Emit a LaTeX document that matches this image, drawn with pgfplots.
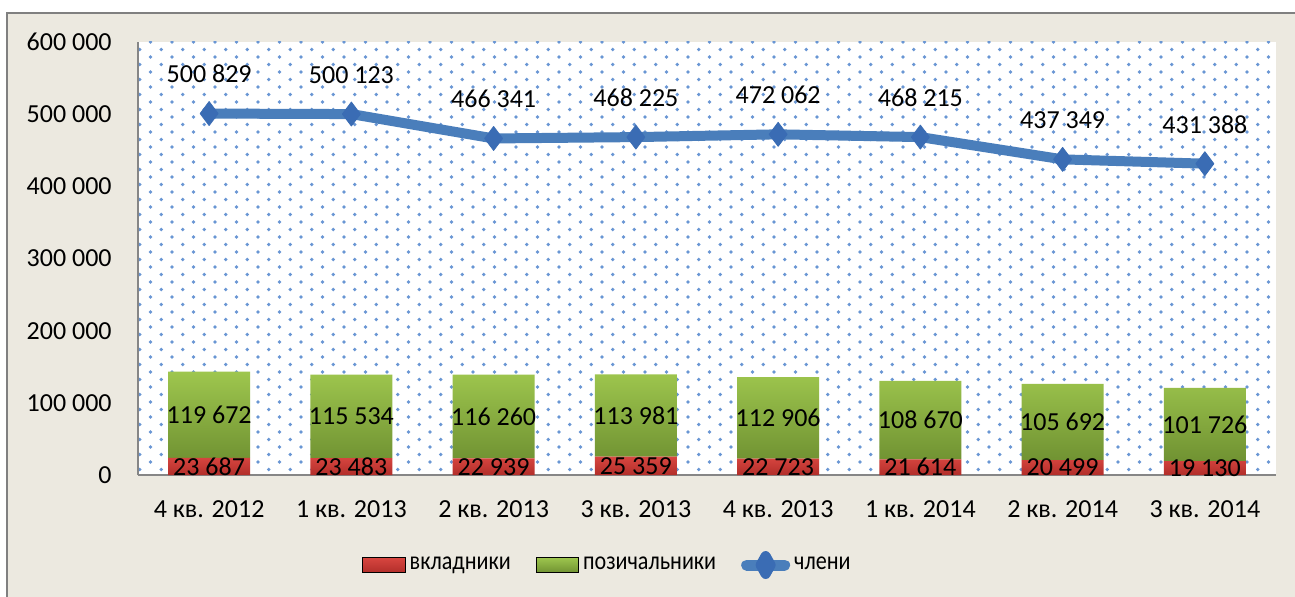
\documentclass[border=0pt]{standalone}
\usepackage{fontspec}
\setmainfont{Carlito}
\newfontfamily\legfont[FakeStretch=0.85]{Carlito}
\usepackage{pgfplots}
\pgfplotsset{compat=1.18}
\usetikzlibrary{patterns}

\definecolor{framebg}{RGB}{236,233,224}
\definecolor{framegray}{RGB}{128,128,128}
\definecolor{axisgray}{RGB}{134,134,134}
\definecolor{dotblue}{RGB}{105,150,212}
\definecolor{redtop}{RGB}{216,70,64}
\definecolor{redbot}{RGB}{178,46,42}
\definecolor{greentop}{RGB}{158,198,78}
\definecolor{greenbot}{RGB}{112,146,50}
\definecolor{lineblue}{RGB}{74,126,187}
\definecolor{markblue}{RGB}{58,108,180}

% staggered dot fill of the plot area
\pgfdeclarepatternformonly{bluedots}{\pgfqpoint{-1.2bp}{-1.2bp}}{\pgfqpoint{6.7bp}{5.2bp}}{\pgfqpoint{10.75bp}{7.5bp}}{%
  \pgfpathcircle{\pgfqpoint{0bp}{0bp}}{0.95bp}%
  \pgfpathcircle{\pgfqpoint{5.375bp}{3.75bp}}{0.95bp}%
  \pgfusepath{fill}}

\newcommand\lbl{\fontsize{13bp}{15bp}\selectfont}
\newcommand\leg{\legfont\fontsize{13bp}{15bp}\selectfont}

\pgfplotsset{
  common/.style={
    scale only axis, width=569bp, height=216.5bp,
    at={(0,0)}, anchor=south west,
    xmin=-0.5, xmax=7.5, ymin=0, ymax=600000,
  },
}

\begin{document}
\begin{tikzpicture}[font=\lbl]
\useasboundingbox (-69bp,-61bp) rectangle (578.5bp,237.5bp);
\fill[white] (-69bp,-61bp) rectangle (578.5bp,237.5bp);
\filldraw[fill=framebg, draw=framegray, line width=1bp] (-65.5bp,-75bp) rectangle (600bp,231bp);

% bars
\begin{axis}[common,
  ybar stacked, bar width=41bp,
  axis lines*=left,
  axis line style={draw=axisgray, line width=1bp},
  axis background/.style={fill=white, postaction={pattern=bluedots, pattern color=dotblue}},
  major tick length=0pt,
  scaled y ticks=false,
  xtick={0,...,7},
  xticklabels={4 кв. 2012,1 кв. 2013,2 кв. 2013,3 кв. 2013,4 кв. 2013,1 кв. 2014,2 кв. 2014,3 кв. 2014},
  ytick={0,100000,200000,300000,400000,500000,600000},
  yticklabels={0,100 000,200 000,300 000,400 000,500 000,600 000},
  tick label style={font=\lbl, inner sep=0pt},
  yticklabel style={anchor=east, xshift=-13bp},
  xticklabel style={anchor=base, yshift=-21bp},
]
\addplot[draw=none, top color=redtop, bottom color=redbot] coordinates {
  (0,23687) (1,23483) (2,22939) (3,25359) (4,22723) (5,21614) (6,20499) (7,19130)};
\addplot[draw=none, top color=greentop, bottom color=greenbot] coordinates {
  (0,119672) (1,115534) (2,116260) (3,113981) (4,112906) (5,108670) (6,105692) (7,101726)};
\end{axis}

% line, labels and legend
\begin{axis}[common,
  hide axis,
  legend columns=3,
  legend cell align=left,
  legend style={at={(0.1968,-0.2079)}, anchor=west, draw=none, fill=none,
    inner sep=0pt, font=\leg, nodes={inner sep=0pt},
    /tikz/every odd column/.append style={column sep=2bp},
    /tikz/every even column/.append style={column sep=12.5bp}},
]
\addlegendimage{legend image code/.code={\shade[top color=redtop, bottom color=redbot] (0bp,-3.75bp) rectangle (21.3bp,3.75bp);}}
\addlegendimage{legend image code/.code={\shade[top color=greentop, bottom color=greenbot] (0bp,-3.75bp) rectangle (21.3bp,3.75bp);}}
\addplot[lineblue, line width=5bp, line join=round,
  mark=diamond*, mark size=6bp, mark options={fill=markblue, draw=markblue, line width=0.4bp},
  legend image code/.code={\draw[lineblue, line width=5.5bp, line cap=round] (2.75bp,0bp) -- (21.75bp,0bp);
    \fill[markblue] (12.25bp,-4.5bp) -- (14.75bp,0bp) -- (12.25bp,4.5bp) -- (9.75bp,0bp) -- cycle;},
  nodes near coords, point meta=explicit symbolic,
  every node near coord/.append style={anchor=base, yshift=15.3bp, inner sep=0pt, text=black, font=\lbl},
] coordinates {
  (0,500829)[500 829] (1,500123)[500 123] (2,466341)[466 341] (3,468225)[468 225]
  (4,472062)[472 062] (5,468215)[468 215] (6,437349)[437 349] (7,431388)[431 388]};
% bar value labels, placed in the middle of each segment
\addplot[draw=none, forget plot, nodes near coords, point meta=explicit symbolic,
  every node near coord/.append style={anchor=center, inner sep=0pt, text=black, font=\lbl}] coordinates {
  (0,11843)[23 687] (1,11742)[23 483] (2,11470)[22 939] (3,12680)[25 359]
  (4,11362)[22 723] (5,10807)[21 614] (6,10250)[20 499] (7,9565)[19 130]};
\addplot[draw=none, forget plot, nodes near coords, point meta=explicit symbolic,
  every node near coord/.append style={anchor=center, inner sep=0pt, text=black, font=\lbl}] coordinates {
  (0,83523)[119 672] (1,81250)[115 534] (2,81069)[116 260] (3,82350)[113 981]
  (4,79176)[112 906] (5,75949)[108 670] (6,73345)[105 692] (7,69993)[101 726]};
\legend{вкладники,позичальники,члени}
\end{axis}
\end{tikzpicture}
\end{document}
